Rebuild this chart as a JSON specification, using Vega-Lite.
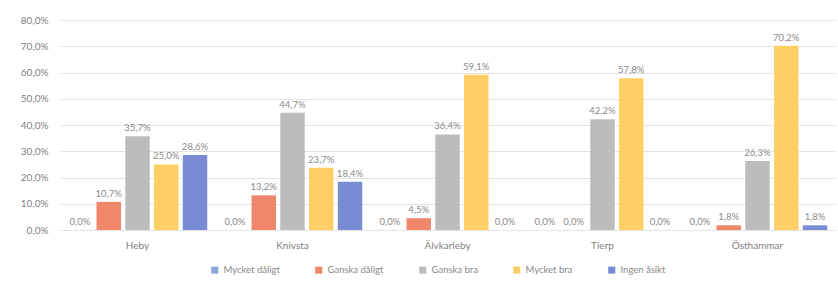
{
  "$schema": "https://vega.github.io/schema/vega-lite/v6.json",
  "width": 775,
  "height": 210,
  "autosize": {"type": "none"},
  "padding": {"left": 60, "top": 20, "right": 3, "bottom": 55},
  "config": {
    "locale": {"number": {"decimal": ",", "thousands": " ", "grouping": [3], "currency": ["", " kr"]}},
    "font": "Lato",
    "view": {"stroke": null},
    "axis": {"labelColor": "#7f7f7f", "labelFont": "Lato", "labelFontSize": 10}
  },
  "data": {
    "values": [
      {"kommun": "Heby", "svar": "Mycket dåligt", "andel": 0.0},
      {"kommun": "Heby", "svar": "Ganska dåligt", "andel": 0.107},
      {"kommun": "Heby", "svar": "Ganska bra", "andel": 0.357},
      {"kommun": "Heby", "svar": "Mycket bra", "andel": 0.25},
      {"kommun": "Heby", "svar": "Ingen åsikt", "andel": 0.286},
      {"kommun": "Knivsta", "svar": "Mycket dåligt", "andel": 0.0},
      {"kommun": "Knivsta", "svar": "Ganska dåligt", "andel": 0.132},
      {"kommun": "Knivsta", "svar": "Ganska bra", "andel": 0.447},
      {"kommun": "Knivsta", "svar": "Mycket bra", "andel": 0.237},
      {"kommun": "Knivsta", "svar": "Ingen åsikt", "andel": 0.184},
      {"kommun": "Älvkarleby", "svar": "Mycket dåligt", "andel": 0.0},
      {"kommun": "Älvkarleby", "svar": "Ganska dåligt", "andel": 0.045},
      {"kommun": "Älvkarleby", "svar": "Ganska bra", "andel": 0.364},
      {"kommun": "Älvkarleby", "svar": "Mycket bra", "andel": 0.591},
      {"kommun": "Älvkarleby", "svar": "Ingen åsikt", "andel": 0.0},
      {"kommun": "Tierp", "svar": "Mycket dåligt", "andel": 0.0},
      {"kommun": "Tierp", "svar": "Ganska dåligt", "andel": 0.0},
      {"kommun": "Tierp", "svar": "Ganska bra", "andel": 0.422},
      {"kommun": "Tierp", "svar": "Mycket bra", "andel": 0.578},
      {"kommun": "Tierp", "svar": "Ingen åsikt", "andel": 0.0},
      {"kommun": "Östhammar", "svar": "Mycket dåligt", "andel": 0.0},
      {"kommun": "Östhammar", "svar": "Ganska dåligt", "andel": 0.018},
      {"kommun": "Östhammar", "svar": "Ganska bra", "andel": 0.263},
      {"kommun": "Östhammar", "svar": "Mycket bra", "andel": 0.702},
      {"kommun": "Östhammar", "svar": "Ingen åsikt", "andel": 0.018}
    ]
  },
  "encoding": {
    "x": {
      "field": "kommun", "type": "nominal", "sort": null,
      "scale": {"paddingInner": 0.1, "paddingOuter": 0.05},
      "axis": {"title": null, "labelAngle": 0, "domain": false, "ticks": false, "labelPadding": 10}
    },
    "xOffset": {
      "field": "svar", "type": "nominal",
      "sort": ["Mycket dåligt", "Ganska dåligt", "Ganska bra", "Mycket bra", "Ingen åsikt"],
      "scale": {"paddingInner": 0.15, "paddingOuter": 0}
    },
    "y": {
      "field": "andel", "type": "quantitative",
      "scale": {"domain": [0, 0.8]},
      "axis": {"title": null, "format": ".1%", "values": [0,0.1,0.2,0.3,0.4,0.5,0.6,0.7,0.8], "labelOverlap": false, "domain": false, "ticks": false, "gridColor": "#e3e3e3", "labelPadding": 12}
    }
  },
  "layer": [
    {
      "mark": {"type": "bar"},
      "encoding": {
        "color": {
          "field": "svar", "type": "nominal",
          "sort": ["Mycket dåligt", "Ganska dåligt", "Ganska bra", "Mycket bra", "Ingen åsikt"],
          "scale": {
            "domain": ["Mycket dåligt", "Ganska dåligt", "Ganska bra", "Mycket bra", "Ingen åsikt"],
            "range": ["#8ea6dc", "#f0866a", "#bcbcbc", "#ffcf66", "#7a8bd6"]
          },
          "legend": {
            "title": null, "orient": "none", "direction": "horizontal",
            "legendX": 150, "legendY": 245,
            "symbolType": "square", "symbolSize": 50, "labelFontSize": 9.5, "labelColor": "#8a8a8a",
            "columnPadding": 34, "labelFont": "Lato"
          }
        }
      }
    },
    {
      "mark": {"type": "text", "dy": -8, "fontSize": 9.5, "color": "#8a8a8a", "font": "Lato"},
      "encoding": {
        "text": {"field": "andel", "type": "quantitative", "format": ".1%"}
      }
    }
  ]
}
